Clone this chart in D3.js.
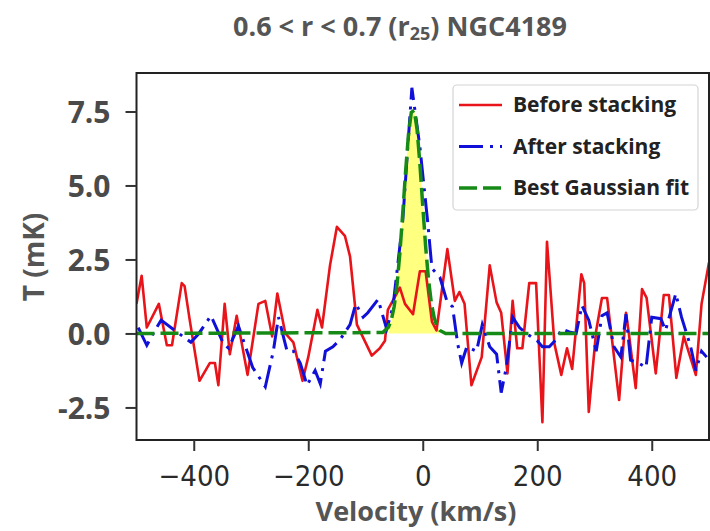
<!DOCTYPE html>
<html>
<head>
<meta charset="utf-8">
<script src="https://cdn.jsdelivr.net/npm/d3@7"></script>
<style>
  body { margin: 0; background: #fff; }
  text { font-family: "Open Sans", Lato, sans-serif; }
</style>
</head>
<body>
<div id="chart"></div>
<script>
// velocity (km/s) and temperature (mK)
const redVel = [-500,-491,-482,-461,-447,-438,-421,-416,-407,-390,-372,-363,-357,-346,-337,-325,-306,-287,-275,-263,-254,-240,-226,-210,-200,-184,-176,-162,-150,-136,-127,-115,-89,-75,-66,-61,-40,-31,-17,-5,5,16,24,43,56,64,73,85,103,117,129,137,148,157,165,174,186,198,209,217,230,242,252,261,277,282,290,303,313,322,343,355,360,372,383,391,407,421,430,443,456,464,477,487,500];
const redT = [1.0,1.95,0.2,1.0,-0.4,-0.4,1.7,1.6,0.45,-1.6,-1.0,-1.0,-1.75,1.0,-0.7,0.6,-1.4,1.0,1.1,-0.1,1.35,0.0,-0.3,-1.6,-0.8,0.8,0.2,2.3,3.6,3.3,2.6,0.3,-0.75,-0.5,-0.25,0.8,1.55,1.0,0.65,2.1,2.1,0.4,0.1,2.85,1.1,1.4,1.0,-1.75,-0.8,2.3,1.05,0.7,-1.35,1.1,-0.5,-0.5,1.7,1.7,-3.0,3.1,-0.35,-1.4,-0.5,-1.2,2.0,1.7,-2.65,0.1,1.2,1.2,-2.25,0.7,0.0,-1.85,1.5,1.2,-1.35,1.3,1.3,-1.5,-0.1,-0.6,-1.4,1.0,2.4];

const blueVel = [-497,-482,-468,-457,-433,-405,-391,-370,-348,-339,-322,-297,-275,-261,-252,-237,-226,-214,-202,-188,-179,-170,-157,-144,-127,-117,-104,-96,-78,-63,-52,-35,-19,-5,9,16,30,42,52,61,68,77,94,104,117,129,137,146,157,169,181,200,209,221,233,243,256,268,278,290,303,313,322,334,346,355,363,377,390,400,416,424,442,452,468,477,487,496];
const blueT = [0.2,-0.4,0.1,0.45,0.1,-0.3,0.0,0.6,-0.35,-0.5,0.25,-1.15,-1.8,-0.6,0.55,-0.6,-0.6,-1.0,-1.75,-1.25,-1.7,-0.6,-0.45,-0.2,0.3,1.0,0.55,0.7,1.15,0.15,0.9,3.8,8.3,6.3,3.7,2.2,1.9,1.1,0.9,-0.35,-1.0,-0.45,-0.6,0.3,-0.45,-0.7,-2.0,-1.15,0.55,0.2,0.0,-0.25,-0.45,-0.45,-0.2,0.15,0.05,0.0,0.95,0.45,-0.6,0.6,0.7,-0.45,-0.8,0.65,-0.9,-1.0,-1.15,0.55,0.5,0.1,1.35,0.55,-0.45,-1.25,-0.6,-0.8];

const fitVel = [-500,-70,-60,-55,-50,-45,-40,-35,-30,-25,-20,-15,-10,-5,0,5,10,15,20,25,30,40,500];
const fitT = [0,0.03,0.21,0.45,0.9,1.64,2.71,4.04,5.46,6.71,7.47,7.54,6.91,5.74,4.32,2.95,1.83,1.03,0.53,0.24,0.1,0,0];

const yTicks = [-2.5, 0, 2.5, 5, 7.5];
const yTickLabels = ["-2.5", "0.0", "2.5", "5.0", "7.5"];
const xTicks = [-400, -200, 0, 200, 400];
const xTickLabels = ["\u2212400", "\u2212200", "0", "200", "400"];

const legendItems = ["Before stacking", "After stacking", "Best Gaussian fit"];

const W = 710, H = 531;
const margin = {top: 73, right: 1, bottom: 91, left: 136.5};

const svg = d3.select("#chart").append("svg")
  .attr("width", W).attr("height", H);

const x = d3.scaleLinear().domain([-500, 500]).range([margin.left, W - margin.right]);
const y = d3.scaleLinear().domain([-3.6, 8.8]).range([H - margin.bottom, margin.top]);

const red = redVel.map((v, i) => [v, redT[i]]);
const blue = blueVel.map((v, i) => [v, blueT[i]]);
const fit = fitVel.map((v, i) => [v, fitT[i]]);

svg.append("clipPath").attr("id", "clip")
  .append("rect")
  .attr("x", margin.left).attr("y", margin.top)
  .attr("width", W - margin.right - margin.left)
  .attr("height", H - margin.bottom - margin.top);

const plot = svg.append("g").attr("clip-path", "url(#clip)");

// yellow area under the fit
const fillPts = fit.filter(d => d[0] >= -60 && d[0] <= 30);
plot.append("path")
  .datum(fillPts)
  .attr("fill", "#ffff55")
  .attr("fill-opacity", 0.75)
  .attr("d", d3.area().x(d => x(d[0])).y0(y(0)).y1(d => y(d[1])));

const line = d3.line().x(d => x(d[0])).y(d => y(d[1]));

plot.append("path").datum(red)
  .attr("fill", "none").attr("stroke", "#e8141a").attr("stroke-width", 2.6)
  .attr("stroke-linejoin", "round")
  .attr("d", line);

plot.append("path").datum(blue)
  .attr("fill", "none").attr("stroke", "#1010d8").attr("stroke-width", 3)
  .attr("stroke-dasharray", "24,7,3,7")
  .attr("d", line);

plot.append("path").datum(fit)
  .attr("fill", "none").attr("stroke", "#168a16").attr("stroke-width", 3.5)
  .attr("stroke-dasharray", "18,6")
  .attr("d", line);

// frame
svg.append("rect")
  .attr("x", margin.left).attr("y", margin.top)
  .attr("width", W - margin.right - margin.left)
  .attr("height", H - margin.bottom - margin.top)
  .attr("fill", "none").attr("stroke", "#222").attr("stroke-width", 2);

// y axis
const yAxis = svg.append("g")
  .attr("transform", `translate(${margin.left},0)`)
  .call(d3.axisLeft(y).tickValues(yTicks).tickSize(11)
    .tickFormat((d, i) => yTickLabels[i]));
yAxis.select(".domain").remove();
yAxis.selectAll("line").attr("stroke", "#333").attr("stroke-width", 2);
yAxis.selectAll("text")
  .attr("x", -26)
  .attr("dy", "0.36em")
  .style("font-family", "'Open Sans', sans-serif")
  .style("font-weight", 700)
  .style("font-size", "30px")
  .attr("fill", "#4a4a4a");

// x axis
const xAxis = svg.append("g")
  .attr("transform", `translate(0,${H - margin.bottom})`)
  .call(d3.axisBottom(x).tickValues(xTicks).tickSize(11)
    .tickFormat((d, i) => xTickLabels[i]));
xAxis.select(".domain").remove();
xAxis.selectAll("line").attr("stroke", "#333").attr("stroke-width", 2);
xAxis.selectAll("text")
  .attr("y", 46)
  .attr("dy", 0)
  .style("font-family", "'DejaVu Sans Condensed', 'DejaVu Sans', sans-serif")
  .style("font-size", "29px")
  .attr("fill", "#2a2a2a");

// axis labels
svg.append("text")
  .attr("x", 416).attr("y", 521)
  .attr("text-anchor", "middle")
  .style("font-weight", 700).style("font-size", "27px")
  .attr("fill", "#555")
  .text("Velocity (km/s)");

svg.append("text")
  .attr("transform", "translate(44,257) rotate(-90)")
  .attr("text-anchor", "middle")
  .style("font-weight", 700).style("font-size", "28px")
  .attr("fill", "#555")
  .text("T (mK)");

// title
const title = svg.append("text")
  .attr("x", 400).attr("y", 36)
  .attr("text-anchor", "middle")
  .style("font-weight", 700).style("font-size", "27px")
  .attr("fill", "#555");
title.append("tspan").text("0.6 < r < 0.7 (r");
title.append("tspan").attr("dy", 4).style("font-size", "18px").text("25");
title.append("tspan").attr("dy", -4).text(") NGC4189");

// legend
const lg = svg.append("g");
lg.append("rect")
  .attr("x", 453).attr("y", 85).attr("width", 245).attr("height", 125)
  .attr("rx", 4)
  .attr("fill", "#fff").attr("fill-opacity", 0.85)
  .attr("stroke", "#d4d4d4").attr("stroke-width", 1.2);

const legendStyles = [
  {color: "#e8141a", dash: null, w: 2.6},
  {color: "#1010d8", dash: "24,7,3,7", w: 3},
  {color: "#168a16", dash: "18,6", w: 3.5}
];
const rowY = d3.scalePoint().domain(legendItems).range([105, 188]);

legendItems.forEach((name, i) => {
  const s = legendStyles[i];
  lg.append("line")
    .attr("x1", 459).attr("x2", 502)
    .attr("y1", rowY(name)).attr("y2", rowY(name))
    .attr("stroke", s.color).attr("stroke-width", s.w)
    .attr("stroke-dasharray", s.dash);
  lg.append("text")
    .attr("x", 513).attr("y", rowY(name) + 7)
    .style("font-weight", 700).style("font-size", "21px")
    .attr("fill", "#222")
    .text(name);
});
</script>
</body>
</html>
